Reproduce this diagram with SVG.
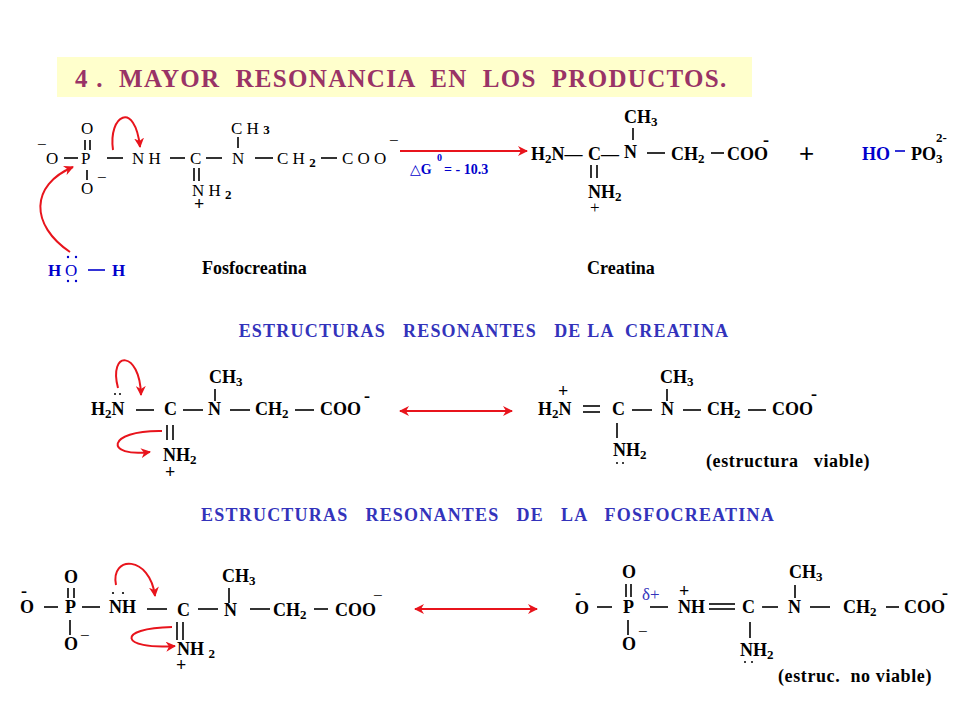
<svg xmlns="http://www.w3.org/2000/svg" width="960" height="720" viewBox="0 0 960 720" font-family="'Liberation Serif','DejaVu Serif',serif">
<style>
text{font-family:'Liberation Serif','DejaVu Serif',serif;fill:#000}
.r{font-size:17px}
.b{font-size:18px;font-weight:bold}
.blue{fill:#0000cc}
.hd{font-size:18px;font-weight:bold;fill:#3333bb;letter-spacing:1.2px}
.k{stroke:#000;stroke-width:1.6;fill:none}
.red{stroke:#e8141c;stroke-width:2;fill:none}
.sub{font-size:13px}
</style>
<defs>
<marker id="ah" viewBox="0 0 10 10" refX="9" refY="5" markerWidth="5" markerHeight="5" orient="auto-start-reverse"><path d="M0,0 L10,5 L0,10 L3,5 z" fill="#e8141c"/></marker>
</defs>
<rect width="960" height="720" fill="#fff"/>
<g id="title">
<rect x="57" y="57" width="695" height="40" fill="#ffffcc"/>
<text x="75" y="87" xml:space="preserve" style="font-size:25px;font-weight:bold;fill:#993366;letter-spacing:1.3px">4 .  MAYOR  RESONANCIA  EN  LOS  PRODUCTOS.</text>
</g>
<g id="fosfocreatina">
<text class="r" x="37" y="150">−</text>
<text class="r" x="46" y="164">O</text>
<line class="k" x1="64" y1="158" x2="78" y2="158"/>
<text class="r" x="81" y="164">P</text>
<text class="r" x="81" y="134">O</text>
<line class="k" x1="85" y1="140" x2="85" y2="150"/><line class="k" x1="90" y1="140" x2="90" y2="150"/>
<line class="k" x1="87" y1="170" x2="87" y2="180"/>
<text class="r" x="81" y="194">O</text>
<text class="r" x="97" y="183">−</text>
<line class="k" x1="107" y1="158" x2="123" y2="158"/>
<text class="r" x="132" y="164" xml:space="preserve">N H</text>
<line class="k" x1="170" y1="158" x2="185" y2="158"/>
<text class="r" x="190" y="164">C</text>
<line class="k" x1="206" y1="158" x2="222" y2="158"/>
<text class="r" x="232" y="164">N</text>
<text class="r" x="231" y="134" xml:space="preserve">C H <tspan class="sub" font-weight="bold">3</tspan></text>
<line class="k" x1="238" y1="137" x2="238" y2="148"/>
<line class="k" x1="255" y1="158" x2="273" y2="158"/>
<text class="r" x="277" y="164" xml:space="preserve">C H <tspan class="sub" font-weight="bold" dy="3">2</tspan></text>
<line class="k" x1="321" y1="158" x2="337" y2="158"/>
<text class="r" x="342" y="164" xml:space="preserve">C O O</text>
<text class="r" x="389" y="146">−</text>
<line class="k" x1="194" y1="168" x2="194" y2="181"/><line class="k" x1="199" y1="168" x2="199" y2="181"/>
<text class="r" x="192" y="196" xml:space="preserve">N H <tspan class="sub" font-weight="bold" dy="3">2</tspan></text>
<text class="b" x="194" y="210">+</text>
<text class="b" x="202" y="274">Fosfocreatina</text>
</g>
<g id="water">
<text class="r blue" x="48" y="276" font-weight="bold">H</text>
<text class="r blue" x="65" y="276">O</text>
<g fill="#0000cc"><circle cx="68" cy="257" r="1.2"/><circle cx="76" cy="257" r="1.2"/><circle cx="68" cy="281" r="1.2"/><circle cx="76" cy="281" r="1.2"/></g>
<line x1="88" y1="270" x2="105" y2="270" stroke="#0000cc" stroke-width="1.6"/>
<text class="r blue" x="112" y="276" font-weight="bold">H</text>
</g>
<g id="creatina">
<text class="b" x="531" y="160">H<tspan class="sub" dy="3">2</tspan><tspan dy="-3">N—</tspan></text>
<text class="b" x="588" y="160">C—</text>
<text class="b" x="624" y="158">N</text>
<line class="k" x1="633" y1="128" x2="633" y2="140"/>
<text class="b" x="624" y="123">CH<tspan class="sub" dy="3">3</tspan></text>
<line class="k" x1="647" y1="153" x2="665" y2="153"/>
<text class="b" x="671" y="160">CH<tspan class="sub" dy="3">2</tspan></text>
<line class="k" x1="711" y1="153" x2="724" y2="153"/>
<text class="b" x="727" y="160">COO</text>
<text class="b" x="763" y="146">-</text>
<line class="k" x1="591" y1="165" x2="591" y2="178"/><line class="k" x1="597" y1="165" x2="597" y2="178"/>
<text class="b" x="588" y="198">NH<tspan class="sub" dy="3">2</tspan></text>
<text class="r" x="590" y="213">+</text>
<text style="font-size:26px;font-family:'Liberation Sans',sans-serif" x="799" y="162">+</text>
<text class="b blue" x="862" y="160">HO</text>
<line x1="895" y1="151" x2="905" y2="151" stroke="#0000cc" stroke-width="1.6"/>
<text class="b" x="911" y="160">PO<tspan class="sub" dy="3">3</tspan></text>
<text class="sub" font-weight="bold" x="936" y="142">2-</text>
<text class="b" x="587" y="274">Creatina</text>
</g>
<g id="hdr1"><text class="hd" x="484" y="337" text-anchor="middle" xml:space="preserve">ESTRUCTURAS   RESONANTES   DE LA  CREATINA</text></g>
<g id="res1-left">
<g><circle cx="115" cy="394" r="1"/><circle cx="120" cy="394" r="1"/></g>
<text class="b" x="91" y="415">H<tspan class="sub" dy="3">2</tspan><tspan dy="-3">N</tspan></text>
<line class="k" x1="136" y1="410" x2="154" y2="410"/>
<text class="b" x="164" y="415">C</text>
<line class="k" x1="183" y1="410" x2="203" y2="410"/>
<text class="b" x="208" y="415">N</text>
<text class="b" x="209" y="383">CH<tspan class="sub" dy="3">3</tspan></text>
<line class="k" x1="215" y1="389" x2="215" y2="401"/>
<line class="k" x1="230" y1="410" x2="250" y2="410"/>
<text class="b" x="255" y="415">CH<tspan class="sub" dy="3">2</tspan></text>
<line class="k" x1="295" y1="410" x2="314" y2="410"/>
<text class="b" x="320" y="415">COO</text>
<text class="b" x="364" y="402">-</text>
<line class="k" x1="167" y1="425" x2="167" y2="440"/><line class="k" x1="173" y1="425" x2="173" y2="440"/>
<text class="b" x="163" y="461">NH<tspan class="sub" dy="3">2</tspan></text>
<text class="b" x="165" y="478">+</text>
</g>
<g id="res1-right">
<text class="b" x="558" y="397">+</text>
<text class="b" x="538" y="415">H<tspan class="sub" dy="3">2</tspan><tspan dy="-3">N</tspan></text>
<line class="k" x1="583" y1="406" x2="600" y2="406"/><line class="k" x1="583" y1="412" x2="600" y2="412"/>
<text class="b" x="612" y="415">C</text>
<line class="k" x1="632" y1="410" x2="652" y2="410"/>
<text class="b" x="661" y="415">N</text>
<text class="b" x="660" y="383">CH<tspan class="sub" dy="3">3</tspan></text>
<line class="k" x1="667" y1="389" x2="667" y2="401"/>
<line class="k" x1="683" y1="410" x2="701" y2="410"/>
<text class="b" x="707" y="415">CH<tspan class="sub" dy="3">2</tspan></text>
<line class="k" x1="748" y1="410" x2="766" y2="410"/>
<text class="b" x="772" y="415">COO</text>
<text class="b" x="811" y="400">-</text>
<line class="k" x1="617" y1="423" x2="617" y2="438"/>
<text class="b" x="613" y="456">NH<tspan class="sub" dy="3">2</tspan></text>
<g><circle cx="617" cy="463" r="1"/><circle cx="623" cy="463" r="1"/></g>
<text class="b" x="706" y="467" xml:space="preserve" style="letter-spacing:0.6px">(estructura   viable)</text>
</g>
<g id="hdr2"><text class="hd" x="488" y="521" text-anchor="middle" xml:space="preserve">ESTRUCTURAS   RESONANTES   DE   LA   FOSFOCREATINA</text></g>
<g id="res2-left">
<text class="b" x="21" y="597">-</text>
<text class="b" x="20" y="613">O</text>
<line class="k" x1="44" y1="607" x2="58" y2="607"/>
<text class="b" x="65" y="613">P</text>
<text class="b" x="64" y="583">O</text>
<line class="k" x1="68" y1="588" x2="68" y2="598"/><line class="k" x1="74" y1="588" x2="74" y2="598"/>
<line class="k" x1="82" y1="607" x2="100" y2="607"/>
<line class="k" x1="70" y1="620" x2="70" y2="635"/>
<text class="b" x="64" y="650">O</text>
<text class="r" x="80" y="641">−</text>
<g><circle cx="113" cy="593" r="1.1"/><circle cx="123" cy="593" r="1.1"/></g>
<text class="b" x="109" y="613">NH</text>
<line class="k" x1="147" y1="609" x2="167" y2="609"/>
<text class="b" x="177" y="616">C</text>
<line class="k" x1="198" y1="609" x2="218" y2="609"/>
<text class="b" x="224" y="616">N</text>
<text class="b" x="222" y="582">CH<tspan class="sub" dy="3">3</tspan></text>
<line class="k" x1="229" y1="588" x2="229" y2="603"/>
<line class="k" x1="250" y1="609" x2="270" y2="609"/>
<text class="b" x="273" y="616">CH<tspan class="sub" dy="3">2</tspan></text>
<line class="k" x1="314" y1="609" x2="328" y2="609"/>
<text class="b" x="335" y="616">COO</text>
<text class="r" x="373" y="601">−</text>
<line class="k" x1="177" y1="622" x2="177" y2="640"/><line class="k" x1="183" y1="622" x2="183" y2="640"/>
<text class="b" x="177" y="655" xml:space="preserve">NH <tspan class="sub" dy="3">2</tspan></text>
<text class="b" x="176" y="671">+</text>
</g>
<g id="res2-right">
<text class="b" x="575" y="599">-</text>
<text class="b" x="575" y="614">O</text>
<line class="k" x1="597" y1="607" x2="612" y2="607"/>
<text class="b" x="623" y="613">P</text>
<text class="b" x="622" y="578">O</text>
<line class="k" x1="626" y1="584" x2="626" y2="597"/><line class="k" x1="631" y1="584" x2="631" y2="597"/>
<text class="r" x="642" y="600" style="fill:#3333bb">δ+</text>
<line class="k" x1="650" y1="607" x2="668" y2="607"/>
<line class="k" x1="628" y1="620" x2="628" y2="635"/>
<text class="b" x="622" y="650">O</text>
<text class="r" x="638" y="637">−</text>
<text class="b" x="679" y="597">+</text>
<text class="b" x="678" y="613">NH</text>
<line class="k" x1="709" y1="604" x2="735" y2="604"/><line class="k" x1="709" y1="609" x2="735" y2="609"/>
<text class="b" x="742" y="613">C</text>
<line class="k" x1="762" y1="607" x2="778" y2="607"/>
<text class="b" x="788" y="613">N</text>
<text class="b" x="789" y="578">CH<tspan class="sub" dy="3">3</tspan></text>
<line class="k" x1="795" y1="585" x2="795" y2="598"/>
<line class="k" x1="810" y1="607" x2="830" y2="607"/>
<text class="b" x="843" y="613">CH<tspan class="sub" dy="3">2</tspan></text>
<line class="k" x1="886" y1="607" x2="899" y2="607"/>
<text class="b" x="904" y="613">COO</text>
<text class="b" x="942" y="599">-</text>
<line class="k" x1="750" y1="622" x2="750" y2="638"/>
<text class="b" x="740" y="656">NH<tspan class="sub" dy="3">2</tspan></text>
<g><circle cx="745" cy="662" r="1"/><circle cx="752" cy="662" r="1"/></g>
<text class="b" x="778" y="682" xml:space="preserve" style="letter-spacing:0.6px">(estruc.  no viable)</text>
</g>
<g id="connectors">
<path class="red" d="M113,150 C108,115 135,100 140,147" marker-end="url(#ah)"/>
<path class="red" d="M70,252 C30,225 30,185 73,167" marker-end="url(#ah)"/>
<line class="red" x1="400" y1="151" x2="527" y2="151" marker-end="url(#ah)"/>
<text x="410" y="174" style="font-size:14px;font-weight:bold;fill:#0000cc">△G</text>
<text x="437" y="161" style="font-size:10px;font-weight:bold;fill:#0000cc">0</text>
<text x="444" y="174" style="font-size:14px;font-weight:bold;fill:#0000cc">= - 10.3</text>
<path class="red" d="M118,388 C108,350 140,350 141,395" marker-end="url(#ah)"/>
<path class="red" d="M162,431 C105,430 105,458 150,452" marker-end="url(#ah)"/>
<line class="red" x1="400" y1="411" x2="512" y2="411" marker-start="url(#ah)" marker-end="url(#ah)"/>
<path class="red" d="M116,585 C110,555 150,555 155,596" marker-end="url(#ah)"/>
<path class="red" d="M172,627 C115,628 120,650 175,646" marker-end="url(#ah)"/>
<line class="red" x1="415" y1="609" x2="537" y2="609" marker-start="url(#ah)" marker-end="url(#ah)"/>
</g>
</svg>
